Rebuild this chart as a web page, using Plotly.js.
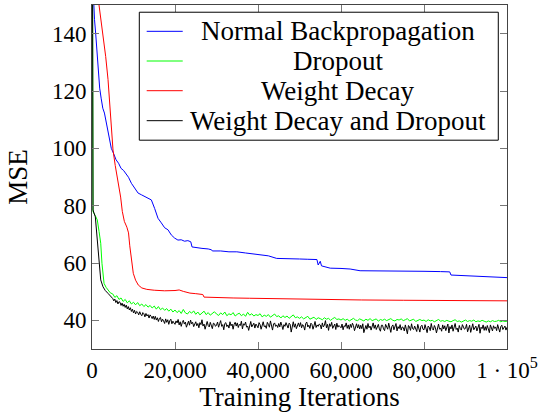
<!DOCTYPE html>
<html>
<head>
<meta charset="utf-8">
<script src="https://cdn.plot.ly/plotly-3.0.1.min.js"></script>
<style>
html,body{margin:0;padding:0;background:#fff;}
#chart{width:540px;height:412px;}
</style>
</head>
<body>
<div id="chart"></div>
<script>
// ---------- data ----------
const seriesNames = ["Normal Backpropagation", "Dropout", "Weight Decay", "Weight Decay and Dropout"];
const seriesColors = ["#0000ff", "#00ff00", "#ff0000", "#000000"];

const xTickVals = [0, 20000, 40000, 60000, 80000, 100000];
const xTickText = ["0", "20,000", "40,000", "60,000", "80,000", "1 \u00b7 10<sup>5</sup>"];
const yTickVals = [40, 60, 80, 100, 120, 140];

// Normal Backpropagation
const normalIter = [0, 300, 600, 890, 1200, 1500, 1850, 2200, 2600, 3000, 3400, 3800, 4200, 4650, 5200, 5800, 6400, 7000, 7600, 8200, 8800, 9500, 10300, 11100, 11900, 12700, 13500, 14300, 15100, 15900, 16700, 17500, 18300, 19100, 19900, 20700, 21500, 22300, 23100, 23800, 24100, 25000, 26500, 28000, 28800, 29000, 31000, 33000, 34900, 37000, 39000, 40500, 42500, 44500, 47000, 50000, 52000, 54200, 54500, 55000, 55300, 56000, 57400, 60000, 62200, 64600, 68000, 72000, 76000, 80000, 84000, 86200, 86500, 90000, 93500, 97000, 100000];
const normalMSE  = [165, 152, 145, 140, 133.5, 128, 121, 117.5, 114, 112.3, 109, 106.4, 103, 100, 98.2, 96, 94.8, 93, 92.3, 91, 89.9, 87.8, 86.2, 84.4, 83.8, 83.1, 82.7, 82, 79, 75.6, 74, 72.3, 71.6, 69.8, 68.7, 68, 68.1, 67.6, 67.8, 67.4, 65.6, 65.5, 65.1, 64.9, 64.6, 64.2, 64.2, 63.9, 63.9, 63.5, 63.2, 62.8, 62.5, 61.6, 61.6, 61.4, 61.3, 61.2, 59.3, 60.6, 59.0, 58.7, 58.2, 58.1, 57.9, 57.3, 57.3, 57.1, 57.1, 57.1, 57.0, 56.9, 55.8, 55.5, 55.2, 55.0, 54.9];

// Weight Decay
const decayIter = [0, 1000, 1690, 2650, 3300, 3860, 4200, 4500, 5060, 5600, 6100, 6400, 6900, 7300, 7800, 8400, 8800, 9100, 9500, 9950, 10500, 11160, 12000, 13200, 15000, 17500, 20000, 21000, 22000, 23600, 25000, 26700, 27000, 30000, 34000, 38000, 45000, 52000, 57400, 65000, 75000, 85000, 92000, 100000];
const decayMSE  = [168, 156, 150, 140, 132, 124, 116, 110, 99.4, 94, 90, 87.8, 83, 78, 74.5, 72.5, 70.5, 66, 60.5, 56.4, 54, 52.3, 51.3, 50.8, 50.5, 50.3, 50.4, 50.6, 50.1, 49.5, 49.3, 49.0, 48.1, 47.9, 47.8, 47.7, 47.5, 47.3, 47.2, 47.1, 47.0, 46.9, 46.9, 46.8];

// Dropout: early part, then readings evenly spaced from 5,000 to 100,000
const dropoutHeadIter = [0, 100, 240, 800, 1280, 1700, 2100, 2400, 2900, 3400, 3860, 4400];
const dropoutHeadMSE  = [260, 78.5, 77.9, 76.5, 75, 71, 66.9, 59.9, 52.9, 51.5, 50.6, 49.6];
const dropoutTailMSE = [
  49.2, 48.0, 48.6, 47.3, 47.8, 46.6, 47.3, 46.1, 46.8, 45.7, 46.3,
  45.4, 46.2, 45.1, 45.7, 44.8, 45.5, 44.6, 45.2, 44.3, 45.0,
  43.9, 44.8, 43.7, 44.3, 43.5, 44.1, 43.2, 43.9, 42.9, 43.6,
  42.7, 43.4, 42.4, 43.8, 42.6, 42.2, 43.1, 42.5, 43.3, 42.1,
  42.9, 41.9, 42.6, 43.2, 42.0, 42.7, 41.8, 42.5, 43.0, 42.2,
  41.7, 42.6, 42.0, 42.9, 41.6, 42.3, 41.9, 42.7, 41.5, 42.1,
  42.5, 41.6, 42.2, 41.4, 42.8, 41.8, 42.3, 41.5, 42.0, 41.7,
  42.3, 41.2, 41.8, 41.4, 42.0, 41.1, 41.7, 42.2, 41.3, 41.6,
  40.8, 41.6, 41.0, 41.5, 40.7, 41.3, 41.9, 40.9, 41.2, 40.7,
  41.2, 40.5, 40.9, 41.4, 40.4, 40.8, 41.1, 40.3, 40.9, 40.6,
  40.2, 40.9, 40.4, 40.7, 40.0, 40.6, 41.0, 40.3, 40.5, 40.1,
  40.6, 40.0, 40.4, 39.8, 40.3, 40.7, 40.1, 39.9, 40.5, 40.2,
  39.8, 40.4, 40.0, 40.6, 39.9, 40.2, 40.5, 39.7, 40.3, 40.0,
  40.4, 39.9, 40.2, 40.6, 40.0, 39.8, 40.3, 40.1, 40.5, 39.9,
  40.2, 40.6, 39.8, 40.1, 40.4, 39.6, 40.0, 40.3, 39.9, 40.1,
  39.6, 40.2, 39.8, 40.0, 39.5, 39.9, 40.3, 39.7, 39.9, 39.6,
  40.0, 39.7, 39.5, 39.9, 40.2, 39.6, 39.8, 39.4, 39.9, 40.1,
  39.6, 39.9, 39.7, 40.1, 39.5, 39.8, 39.6, 40.0, 39.7, 39.4,
  39.8, 39.5, 39.9, 39.6, 39.7, 40.0, 39.5, 39.8, 39.6, 39.7
];

// Weight Decay and Dropout: early part, then readings evenly spaced from 5,000 to 100,000
const bothHeadIter = [0, 100, 240, 800, 1200, 1610, 2100, 2650, 3200, 3860, 4400];
const bothHeadMSE  = [260, 79, 78.5, 76.1, 69.2, 59.9, 54.1, 51.7, 50.4, 49.4, 48.6];
const bothTailMSE = [
  47.6, 46.8, 47.4, 46.2, 46.9, 45.7, 46.5, 46.3, 45.2, 46.0, 44.9, 45.6, 44.5, 45.3, 44.0, 44.8, 43.6, 44.4, 43.1, 43.9,
  42.6, 43.5, 42.2, 43.1, 42.8, 41.9, 43.0, 42.1, 41.6, 42.7, 42.3, 41.2, 42.4, 41.5, 42.0, 40.8, 41.9, 41.4, 40.6, 41.5,
  40.3, 41.4, 40.1, 40.9, 39.6, 40.7, 41.0, 39.5, 40.4, 39.8, 38.9, 40.5, 39.3, 40.2, 38.6, 39.9, 40.4, 38.8, 39.7, 39.1,
  38.6, 39.8, 39.1, 40.3, 38.4, 39.5, 37.9, 39.2, 40.0, 38.7, 39.4, 37.6, 38.9, 39.7, 38.3, 40.1, 38.8, 39.3, 37.8, 39.0,
  39.5, 38.1, 38.9, 37.4, 39.2, 38.5, 40.2, 38.0, 38.7, 36.9, 38.6, 39.6, 38.2, 37.7, 39.3, 38.4, 37.1, 39.0, 38.8, 37.9,
  38.3, 39.4, 37.6, 38.8, 39.9, 37.9, 38.5, 36.7, 38.9, 39.2, 37.8, 38.4, 37.3, 39.5, 38.1, 38.7, 36.9, 38.6, 39.3, 38.0,
  39.1, 37.5, 38.6, 38.2, 39.7, 37.0, 38.8, 38.3, 39.4, 37.6, 38.0, 36.5, 38.9, 39.6, 37.7, 38.4, 39.0, 37.3, 38.7, 38.1,
  37.4, 39.2, 38.5, 36.9, 38.8, 39.5, 37.8, 38.1, 37.2, 39.3, 38.6, 37.6, 39.8, 38.0, 36.6, 38.7, 39.1, 37.9, 38.4, 37.5,
  38.9, 37.7, 39.4, 38.2, 36.8, 38.5, 37.9, 39.2, 38.0, 37.3, 39.0, 38.6, 35.9, 38.3, 39.5, 37.6, 38.8, 37.1, 38.4, 39.1,
  37.8, 39.2, 37.4, 38.5, 38.0, 36.6, 38.9, 39.4, 37.7, 38.3, 37.2, 39.0, 38.6, 36.9, 38.1, 39.6, 37.5, 38.4, 37.9, 38.7,
  38.4, 37.0, 39.1, 37.7, 38.3, 39.9, 37.4, 38.6, 36.5, 38.8, 37.9, 39.3, 37.2, 38.0, 38.7, 36.8, 39.0, 37.6, 38.2, 37.8,
  37.4, 38.7, 36.7, 38.1, 37.8, 39.1, 37.2, 38.4, 36.9, 38.6, 37.5, 39.0, 38.2, 36.4, 37.9, 38.8, 37.3, 38.5, 37.0, 38.3,
  37.1, 38.8, 35.7, 37.6, 38.2, 36.9, 38.9, 37.4, 38.0, 36.6, 37.8, 39.1, 37.2, 38.4, 36.8, 37.5, 38.6, 37.0, 36.2, 38.3,
  38.3, 37.0, 36.4, 38.6, 37.4, 36.9, 39.0, 37.2, 35.8, 37.9, 38.4, 36.7, 37.6, 38.9, 36.3, 37.8, 37.1, 38.5, 36.6, 37.7,
  37.5, 36.3, 38.4, 37.0, 35.3, 38.2, 37.7, 36.5, 38.8, 37.1, 36.8, 38.0, 37.3, 36.1, 38.6, 37.6, 35.9, 37.9, 38.3, 36.9,
  36.7, 38.5, 37.2, 35.7, 38.0, 37.6, 36.4, 38.9, 37.1, 36.6, 38.2, 37.4, 35.6, 37.8, 38.7, 36.9, 37.3, 36.2, 38.4, 37.0,
  38.1, 36.4, 37.6, 38.7, 35.6, 37.8, 37.0, 38.4, 36.2, 37.5, 38.9, 36.8, 37.3, 35.9, 38.2, 37.1, 36.6, 38.5, 37.4, 36.9,
  37.2, 38.6, 36.0, 37.7, 38.3, 35.8, 37.4, 38.8, 36.7, 37.3, 38.0, 36.3, 37.9, 38.6, 35.5, 37.6, 37.1, 38.4, 36.5, 37.8,
  36.5, 38.2, 37.0, 35.7, 38.4, 36.9, 36.3, 38.1, 37.2, 37.7, 36.4, 38.5, 37.1, 35.9, 37.8, 38.3, 36.8, 37.4, 38.0, 36.6,
  37.6
];
const tailFirst = 5000, tailLast = 100000;

// ---------- build traces ----------
function joinSeries(headIter, headMSE, tailMSE) {
  const x = headIter.slice(), y = headMSE.slice();
  const step = (tailLast - tailFirst) / (tailMSE.length - 1);
  tailMSE.forEach((v, i) => { x.push(tailFirst + i * step); y.push(v); });
  return {x, y};
}
const dropout = joinSeries(dropoutHeadIter, dropoutHeadMSE, dropoutTailMSE);
const both = joinSeries(bothHeadIter, bothHeadMSE, bothTailMSE);

const seriesData = [
  {x: normalIter, y: normalMSE},
  dropout,
  {x: decayIter, y: decayMSE},
  both
];

const traces = seriesData.map((s, i) => ({
  type: "scatter", mode: "lines", name: seriesNames[i],
  x: s.x, y: s.y,
  line: {color: seriesColors[i], width: 1},
  hoverinfo: "skip"
}));

// ---------- custom centred legend (like pgfplots) ----------
const FONT = "'Liberation Serif', 'Times New Roman', serif";
const legBox = {x0: 0.114, x1: 0.979, y0: 0.607, y1: 0.979};
const legRowsY = [0.9235, 0.8372, 0.7509, 0.6637];
const shapes = [{
  type: "rect", xref: "paper", yref: "paper",
  x0: legBox.x0, x1: legBox.x1, y0: legBox.y0, y1: legBox.y1,
  line: {color: "#000", width: 1}, fillcolor: "#fff", layer: "above"
}];
const annotations = [];
seriesNames.forEach((n, i) => {
  shapes.push({type: "line", xref: "paper", yref: "paper",
    x0: 0.1318, x1: 0.2186, y0: legRowsY[i], y1: legRowsY[i],
    line: {color: seriesColors[i], width: 1}, layer: "above"});
  annotations.push({xref: "paper", yref: "paper", x: 0.5916, y: legRowsY[i],
    xanchor: "center", yanchor: "middle", text: n, showarrow: false,
    font: {family: FONT, size: 27, color: "#000"}});
});

const axisCommon = {
  ticks: "inside", ticklen: 7, tickwidth: 1, tickcolor: "#777",
  showline: true, linecolor: "#444", linewidth: 1, mirror: "ticks",
  showgrid: false, zeroline: false,
  tickfont: {family: FONT, size: 23, color: "#000"}
};

const layout = {
  width: 540, height: 412,
  margin: {l: 92, r: 33, t: 5, b: 63},
  paper_bgcolor: "#fff", plot_bgcolor: "#fff",
  font: {family: FONT, size: 23, color: "#000"},
  showlegend: false,
  xaxis: Object.assign({}, axisCommon, {
    range: [0, 100000], tickmode: "array", tickvals: xTickVals, ticktext: xTickText,
    title: {text: "Training Iterations", font: {family: FONT, size: 27, color: "#000"}, standoff: 3}
  }),
  yaxis: Object.assign({}, axisCommon, {
    range: [30, 150], tickmode: "array", tickvals: yTickVals,
    title: {text: "MSE", font: {family: FONT, size: 27, color: "#000"}, standoff: 16}
  }),
  shapes: shapes,
  annotations: annotations
};

Plotly.newPlot("chart", traces, layout, {staticPlot: true, displayModeBar: false});
</script>
</body>
</html>
